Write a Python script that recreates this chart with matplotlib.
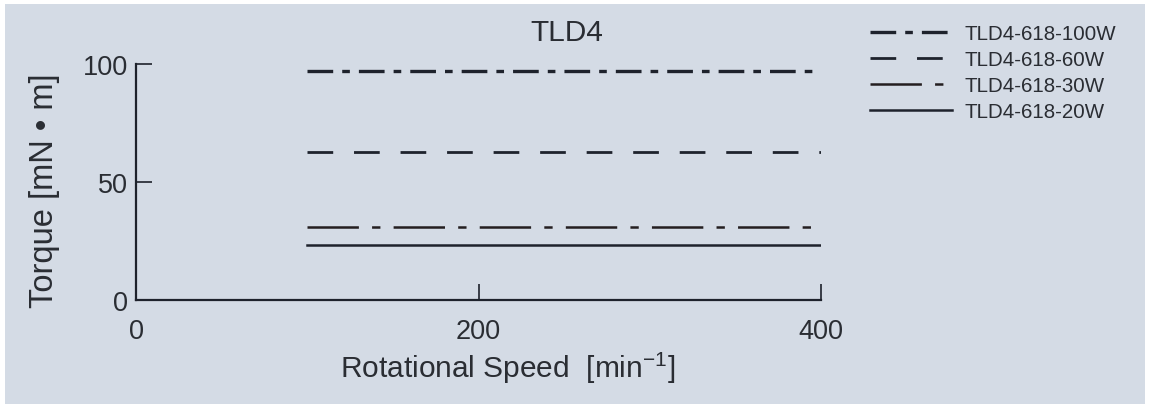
import numpy as np
import matplotlib
matplotlib.use('Agg')
import matplotlib.pyplot as plt
from matplotlib.patches import Rectangle

plt.rcParams['font.family'] = ['Liberation Sans', 'DejaVu Sans']
plt.rcParams['mathtext.fontset'] = 'custom'
plt.rcParams['mathtext.rm'] = 'Liberation Sans'
plt.rcParams['lines.scale_dashes'] = False

# data
speed = [100, 400]
models = ['TLD4-618-100W', 'TLD4-618-60W', 'TLD4-618-30W', 'TLD4-618-20W']
torque_100w = [97, 97]
torque_60w = [62.8, 62.8]
torque_30w = [30.8, 30.8]
torque_20w = [23.3, 23.3]
xticks = [0, 200, 400]
yticks = [0, 50, 100]

bg = '#d4dbe5'
ink = '#1e222c'
txt = '#2a2d33'

fig = plt.figure(figsize=(11.5, 4.1), dpi=100, facecolor='white')
fig.patches.append(Rectangle((0.004, 0.012), 0.992, 0.976, transform=fig.transFigure,
                             facecolor=bg, edgecolor='none', zorder=-10))

ax = fig.add_axes([0.1183, 0.2659, 0.5956, 0.5756])
ax.set_facecolor('none')

styles = [
    dict(lw=2.4, c=ink, ls=(0, (18.5, 6.5, 5.5, 6.5))),
    dict(lw=2.0, c=ink, ls=(0, (18.5, 15))),
    dict(lw=1.8, c='#241e20', ls=(0, (37, 9.5, 6, 9.5))),
    dict(lw=1.8, c=ink, ls='-'),
]
series = [torque_100w, torque_60w, torque_30w, torque_20w]
for name, vals, st in zip(models, series, styles):
    ax.plot(speed, vals, color=st['c'], linewidth=st['lw'], linestyle=st['ls'],
            label=name, dash_capstyle='butt')

ax.set_xlim(0, 400)
ax.set_ylim(0, 100)
ax.set_xticks(xticks)
ax.set_yticks(yticks)
ax.spines['top'].set_visible(False)
ax.spines['right'].set_visible(False)
for s in ['left', 'bottom']:
    ax.spines[s].set_linewidth(1.6)
    ax.spines[s].set_color(ink)
ax.tick_params(axis='both', direction='in', length=11.5, width=1.2, color=ink,
               labelsize=19.5, labelcolor=txt)
ax.tick_params(axis='x', pad=13)
ax.tick_params(axis='y', pad=6)

ax.set_xlabel('Rotational Speed  [min$^{\\mathrm{-1}}$]', fontsize=21.5, color=txt)
ax.xaxis.set_label_coords(0.543, -0.21)
fig.text(0.039, 0.534, 'Torque [mN • m]', rotation=90, ha='center', va='center',
         fontsize=23.5, color=txt)
fig.text(0.493, 0.92, 'TLD4', ha='center', va='center', fontsize=21.5, color=txt)

leg = fig.legend(loc='upper left', bbox_to_anchor=(0.740, 0.983), frameon=False,
                 fontsize=14.8, handlelength=4.0, handletextpad=0.6, labelspacing=0.34,
                 labelcolor=txt)

fig.savefig('out.png', dpi=100, facecolor=fig.get_facecolor())
